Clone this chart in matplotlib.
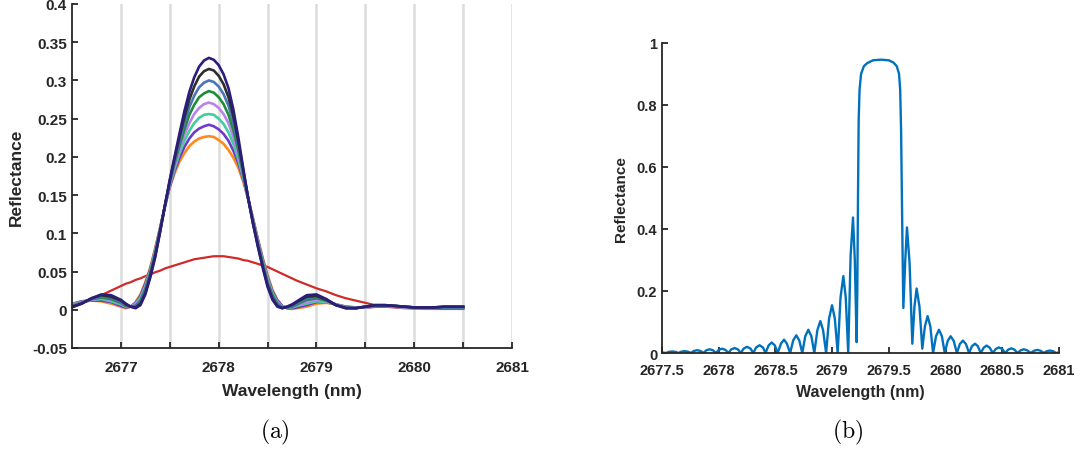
import numpy as np
import matplotlib.pyplot as plt

plt.rcParams['font.family'] = ['Liberation Sans', 'DejaVu Sans']
plt.rcParams['mathtext.fontset'] = 'cm'

# ---------------- panel (a) data ----------------
wl_a = [2676.5, 2676.6, 2676.7, 2676.8, 2676.9,
        2677.0, 2677.05, 2677.1, 2677.15, 2677.2, 2677.25, 2677.3, 2677.35, 2677.4, 2677.45,
        2677.5, 2677.55, 2677.6, 2677.65, 2677.7, 2677.75, 2677.8, 2677.85, 2677.9, 2677.95,
        2678.0, 2678.05, 2678.1, 2678.15, 2678.2, 2678.25, 2678.3, 2678.35, 2678.4, 2678.45,
        2678.5, 2678.55, 2678.6, 2678.65, 2678.7, 2678.75, 2678.8,
        2678.9, 2679.0, 2679.1, 2679.2, 2679.3, 2679.4, 2679.5, 2679.6, 2679.7, 2679.8,
        2679.9, 2680.0, 2680.1, 2680.2, 2680.3, 2680.4, 2680.5]

red = [.006, .010, .014, .019, .025,
       .031, .034, .036, .039, .041, .044, .046, .049, .051, .054,
       .056, .058, .060, .062, .064, .066, .067, .068, .069, .070,
       .070, .070, .069, .068, .067, .065, .064, .062, .060, .058,
       .056, .053, .050, .047, .044, .041, .038,
       .033, .028, .024, .019, .015, .012, .009, .006, .004, .003,
       .002, .002, .001, .001, .001, .001, .001]

orange = [.008, .011, .012, .011, .008,
          .004, .002, .004, .010, .020, .036, .055, .080, .107, .135,
          .160, .179, .194, .205, .214, .220, .224, .226, .227, .226,
          .222, .217, .209, .199, .186, .168, .146, .120, .093, .068,
          .045, .026, .013, .005, .002, .001, .002,
          .004, .008, .009, .007, .004, .003, .003, .004, .004, .004,
          .003, .002, .002, .002, .002, .002, .002]
purple = [.007, .011, .012, .012, .010,
          .005, .003, .004, .009, .018, .034, .053, .078, .106, .135,
          .161, .182, .199, .213, .224, .232, .237, .240, .242, .240,
          .236, .230, .221, .208, .192, .171, .146, .119, .092, .066,
          .043, .024, .012, .005, .002, .002, .003,
          .006, .010, .010, .007, .004, .003, .003, .004, .004, .004,
          .003, .002, .002, .002, .002, .002, .002]
teal = [.007, .010, .013, .014, .011,
        .007, .004, .004, .008, .016, .031, .051, .077, .105, .135,
        .163, .185, .205, .221, .234, .244, .251, .255, .256, .255,
        .250, .243, .232, .217, .197, .173, .146, .118, .090, .064,
        .041, .022, .010, .004, .003, .003, .005,
        .008, .011, .010, .007, .003, .003, .003, .005, .005, .004,
        .003, .002, .002, .002, .003, .003, .003]
lilac = [.006, .010, .013, .015, .013,
         .008, .005, .004, .007, .014, .029, .049, .075, .104, .135,
         .164, .188, .210, .229, .244, .256, .264, .269, .271, .269,
         .264, .256, .244, .226, .203, .176, .146, .117, .089, .062,
         .039, .020, .009, .004, .003, .004, .006,
         .010, .013, .011, .007, .003, .003, .003, .005, .005, .004,
         .003, .003, .003, .003, .003, .003, .003]
green = [.005, .009, .014, .016, .014,
         .009, .005, .004, .005, .012, .027, .048, .073, .104, .136,
         .166, .192, .215, .236, .255, .268, .278, .283, .286, .284,
         .278, .269, .255, .235, .209, .178, .147, .116, .087, .061,
         .036, .019, .008, .003, .003, .004, .007,
         .013, .015, .012, .006, .003, .002, .004, .005, .005, .005,
         .004, .003, .003, .003, .003, .003, .003]
steel = [.004, .009, .014, .017, .016,
         .010, .006, .004, .004, .010, .025, .046, .071, .103, .136,
         .167, .195, .220, .244, .265, .280, .291, .297, .300, .298,
         .292, .282, .267, .244, .215, .181, .147, .115, .086, .059,
         .034, .017, .007, .003, .003, .005, .008,
         .015, .017, .013, .006, .003, .002, .004, .005, .005, .005,
         .004, .003, .003, .003, .003, .003, .003]
black = [.004, .008, .015, .019, .017,
         .012, .007, .004, .003, .008, .022, .044, .070, .102, .136,
         .169, .198, .226, .252, .275, .292, .305, .312, .315, .313,
         .306, .295, .278, .253, .220, .183, .147, .114, .084, .057,
         .032, .015, .005, .002, .004, .006, .010,
         .017, .018, .013, .006, .002, .002, .004, .006, .006, .005,
         .004, .003, .003, .003, .004, .004, .004]
navy = [.003, .008, .015, .020, .019,
        .013, .008, .004, .002, .006, .020, .042, .068, .101, .136,
        .170, .201, .231, .260, .285, .304, .318, .326, .3295, .327,
        .320, .308, .290, .262, .226, .186, .147, .113, .083, .055,
        .030, .013, .004, .002, .004, .007, .011,
        .019, .020, .014, .006, .002, .002, .004, .006, .006, .005,
        .004, .003, .003, .003, .004, .004, .004]

series_a = [orange, purple, teal, lilac, green, steel, black, navy]
colors_a = ['#FF8A1C', '#6C3CC8', '#43CC9E', '#B884EC', '#1E8C3A',
            '#4A76B8', '#2E2E2E', '#2A1E7C']

yticks_a = [-0.05, 0, 0.05, 0.1, 0.15, 0.2, 0.25, 0.3, 0.35, 0.4]
ylabels_a = ['-0.05', '0', '0.05', '0.1', '0.15', '0.2', '0.25', '0.3', '0.35', '0.4']
xticks_a = [2677, 2677.5, 2678, 2678.5, 2679, 2679.5, 2680, 2680.5, 2681]
xlabels_a = ['2677', '', '2678', '', '2679', '', '2680', '', '2681']

# ---------------- panel (b) data ----------------
wl_b = [2677.50, 2677.535, 2677.56, 2677.59, 2677.62, 2677.645, 2677.67, 2677.70, 2677.73,
        2677.755, 2677.78, 2677.81, 2677.84, 2677.865, 2677.89, 2677.92, 2677.95,
        2677.975, 2678.00, 2678.03, 2678.06, 2678.085, 2678.11, 2678.14, 2678.17,
        2678.195, 2678.22, 2678.25, 2678.28, 2678.305, 2678.33, 2678.36, 2678.39,
        2678.413, 2678.44, 2678.467, 2678.495, 2678.52, 2678.55, 2678.576, 2678.60,
        2678.63, 2678.657, 2678.684, 2678.71, 2678.737, 2678.763, 2678.79, 2678.817,
        2678.843, 2678.87, 2678.896, 2678.92, 2678.947, 2678.973, 2678.999, 2679.024,
        2679.049, 2679.074, 2679.099, 2679.12, 2679.142, 2679.163, 2679.184, 2679.20,
        2679.216, 2679.222, 2679.228, 2679.234, 2679.242, 2679.255, 2679.28, 2679.31,
        2679.36, 2679.43, 2679.50, 2679.54, 2679.57, 2679.59, 2679.60, 2679.608,
        2679.615, 2679.622, 2679.628, 2679.645, 2679.66, 2679.683, 2679.707, 2679.726,
        2679.745, 2679.77, 2679.795, 2679.818, 2679.842, 2679.866, 2679.89, 2679.916,
        2679.942, 2679.968, 2679.993, 2680.019, 2680.045, 2680.072, 2680.10, 2680.126,
        2680.153, 2680.18, 2680.207, 2680.233, 2680.26, 2680.285, 2680.31, 2680.336,
        2680.362, 2680.39, 2680.416, 2680.443, 2680.47, 2680.50, 2680.525, 2680.553,
        2680.58, 2680.607, 2680.635, 2680.662, 2680.69, 2680.72, 2680.75, 2680.78,
        2680.81, 2680.838, 2680.865, 2680.892, 2680.92, 2680.948, 2680.975, 2681.0]
refl_b = [.002, 0, .0036, .005, .0036, 0, .0043, .006, .0043,
          0, .0065, .009, .0065, 0, .0086, .012, .0086,
          0, .010, .014, .010, 0, .0115, .016, .0115,
          0, .0144, .020, .0144, 0, .018, .025, .018,
          0, .0245, .034, .0245, 0, .031, .043, .031,
          0, .041, .057, .041, 0, .054, .075, .054,
          0, .074, .103, .074, 0, .111, .154, .111,
          0, .179, .248, .179, 0, .315, .437, .30,
          .035, .20, .50, .75, .85, .90, .925, .935,
          .944, .946, .944, .937, .925, .90, .85, .72,
          .50, .30, .145, .30, .405, .29, .030, .15,
          .208, .15, .014, .086, .119, .086, 0, .054,
          .075, .054, 0, .039, .054, .039, 0, .029,
          .040, .029, 0, .022, .030, .022, 0, .017,
          .024, .017, 0, .013, .018, .013, 0, .011,
          .015, .011, 0, .0086, .012, .0086, 0, .0072,
          .010, .0072, 0, .0058, .008, .0058, 0, .002]

xticks_b = [2677.5, 2678, 2678.5, 2679, 2679.5, 2680, 2680.5, 2681]
xlabels_b = ['2677.5', '2678', '2678.5', '2679', '2679.5', '2680', '2680.5', '2681']
yticks_b = [0, 0.2, 0.4, 0.6, 0.8, 1]
ylabels_b = ['0', '0.2', '0.4', '0.6', '0.8', '1']

fig = plt.figure(figsize=(10.84, 4.52), dpi=100)

# ---------------- panel (a) ----------------
ax1 = fig.add_axes([0.0664, 0.228, 0.406, 0.761])
for xv in xticks_a:
    ax1.axvline(xv, color='#dcdcdc', lw=1.8, zorder=0)
ax1.plot(wl_a, red, color='#D12A2A', lw=1.6, zorder=1)
for s, c in zip(series_a, colors_a):
    ax1.plot(wl_a, s, color=c, lw=1.9, zorder=2, solid_joinstyle='round')
ax1.set_xlim(2676.5, 2681)
ax1.set_ylim(-0.05, 0.4)
ax1.set_xticks(xticks_a)
ax1.set_xticklabels(xlabels_a)
ax1.set_yticks(yticks_a)
ax1.set_yticklabels(ylabels_a)
ax1.set_xlabel('Wavelength (nm)', fontsize=12.5, fontweight='bold', color='#262626', labelpad=6)
ax1.set_ylabel('Reflectance', fontsize=12.5, fontweight='bold', color='#262626', labelpad=6)

# ---------------- panel (b) ----------------
ax2 = fig.add_axes([0.6107, 0.2168, 0.3662, 0.686])
ax2.plot(wl_b, refl_b, color='#0072BD', lw=1.7, solid_joinstyle='round')
ax2.set_xlim(2677.5, 2681)
ax2.set_ylim(0, 1)
ax2.set_xticks(xticks_b)
ax2.set_xticklabels(xlabels_b)
ax2.set_yticks(yticks_b)
ax2.set_yticklabels(ylabels_b)
ax2.set_xlabel('Wavelength (nm)', fontsize=11.5, fontweight='bold', color='#262626', labelpad=5)
ax2.set_ylabel('Reflectance', fontsize=11, fontweight='bold', color='#262626', labelpad=6)

for ax, fs, xpad in [(ax1, 11, 9), (ax2, 10.5, 7)]:
    for sp in ['top', 'right']:
        ax.spines[sp].set_visible(False)
    for sp in ['left', 'bottom']:
        ax.spines[sp].set_linewidth(1.3)
        ax.spines[sp].set_color('#262626')
    ax.tick_params(direction='in', length=4, width=1.3, color='#262626',
                   labelsize=fs, labelcolor='#262626')
    ax.tick_params(axis='x', pad=xpad)
    for lab in ax.get_xticklabels() + ax.get_yticklabels():
        lab.set_fontweight('bold')

fig.text(0.254, 0.043, r'$\mathrm{(a)}$', fontsize=17, ha='center', va='center')
fig.text(0.782, 0.043, r'$\mathrm{(b)}$', fontsize=17, ha='center', va='center')

fig.savefig('out.png', dpi=100)
